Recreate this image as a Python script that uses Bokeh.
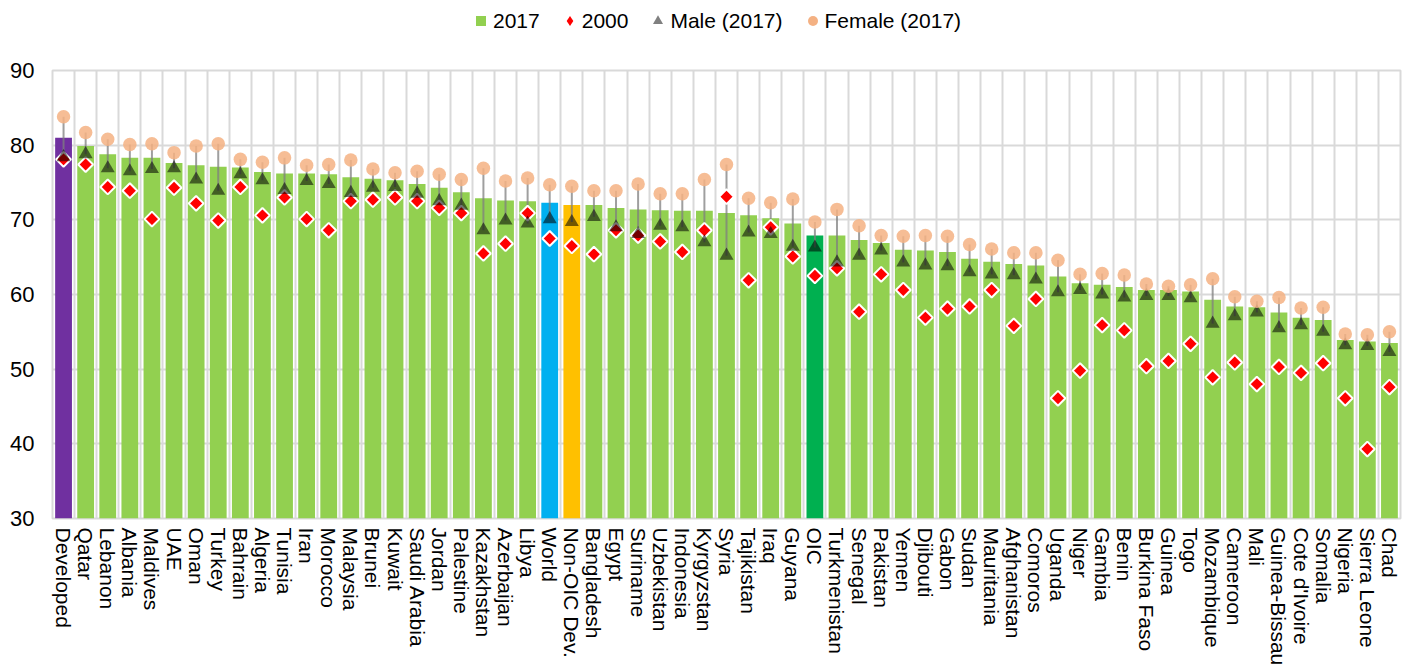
import numpy as np
from bokeh.plotting import figure
from bokeh.layouts import column
from bokeh.models import Range1d, FactorRange, FixedTicker, Legend, LegendItem, ColumnDataSource
from bokeh.embed import file_html
from bokeh.resources import INLINE

categories = ["Developed", "Qatar", "Lebanon", "Albania", "Maldives", "UAE", "Oman", "Turkey",
              "Bahrain", "Algeria", "Tunisia", "Iran", "Morocco", "Malaysia", "Brunei", "Kuwait",
              "Saudi Arabia", "Jordan", "Palestine", "Kazakhstan", "Azerbaijan", "Libya", "World",
              "Non-OIC Dev.", "Bangladesh", "Egypt", "Suriname", "Uzbekistan", "Indonesia",
              "Kyrgyzstan", "Syria", "Tajikistan", "Iraq", "Guyana", "OIC", "Turkmenistan",
              "Senegal", "Pakistan", "Yemen", "Djibouti", "Gabon", "Sudan", "Mauritania",
              "Afghanistan", "Comoros", "Uganda", "Niger", "Gambia", "Benin", "Burkina Faso",
              "Guinea", "Togo", "Mozambique", "Cameroon", "Mali", "Guinea-Bissau",
              "Cote d'Ivoire", "Somalia", "Nigeria", "Sierra Leone", "Chad"]

v2017 = [81.0, 79.9, 78.8, 78.3, 78.3, 77.6, 77.3, 77.1, 77.0, 76.4,
         76.2, 76.2, 76.1, 75.7, 75.5, 75.3, 74.8, 74.3, 73.7, 72.9,
         72.6, 72.5, 72.3, 72.0, 72.0, 71.6, 71.4, 71.3, 71.2, 71.2,
         70.9, 70.6, 70.2, 69.5, 67.9, 67.9, 67.3, 66.9, 66.0, 65.9,
         65.7, 64.8, 64.4, 64.1, 63.9, 62.4, 61.5, 61.3, 61.0, 60.6,
         60.6, 60.4, 59.3, 58.4, 58.3, 57.6, 56.9, 56.6, 53.9, 53.7, 53.5]

v2000 = [78.1, 77.4, 74.4, 73.9, 70.1, 74.3, 72.2, 69.9, 74.4, 70.6,
         73.0, 70.1, 68.6, 72.5, 72.7, 73.0, 72.5, 71.6, 70.9, 65.5,
         66.8, 70.9, 67.5, 66.5, 65.4, 68.6, 67.9, 67.1, 65.7, 68.6,
         73.1, 61.9, 69.0, 65.1, 62.5, 63.5, 57.7, 62.7, 60.6, 56.9,
         58.1, 58.4, 60.6, 55.8, 59.4, 46.1, 49.8, 55.9, 55.2, 50.4,
         51.1, 53.4, 48.9, 50.9, 48.0, 50.3, 49.5, 50.8, 46.1, 39.3, 47.6]

male2017 = [78.4, 78.8, 76.9, 76.5, 76.8, 76.9, 75.4, 73.9, 76.1, 75.3,
            74.0, 75.2, 74.8, 73.6, 74.3, 74.4, 73.5, 72.5, 71.9, 68.6,
            69.9, 69.5, 70.1, 69.7, 70.4, 69.0, 68.1, 69.2, 69.0, 67.0,
            65.2, 68.3, 68.1, 66.4, 66.3, 64.3, 65.2, 65.9, 64.3, 63.9,
            63.8, 63.0, 62.7, 62.6, 62.0, 60.3, 60.6, 60.0, 59.6, 59.8,
            59.8, 59.5, 56.1, 57.1, 57.6, 55.5, 55.9, 55.0, 53.2, 53.1, 52.3]

female2017 = [83.8, 81.7, 80.8, 80.1, 80.2, 79.0, 79.9, 80.2, 78.1, 77.7,
              78.3, 77.3, 77.4, 78.0, 76.8, 76.3, 76.5, 76.1, 75.4, 76.9,
              75.2, 75.6, 74.7, 74.5, 73.9, 73.9, 74.8, 73.5, 73.5, 75.4,
              77.4, 72.9, 72.3, 72.8, 69.7, 71.4, 69.2, 67.9, 67.8, 67.9,
              67.8, 66.7, 66.1, 65.6, 65.6, 64.6, 62.7, 62.8, 62.6, 61.4,
              61.1, 61.3, 62.1, 59.7, 59.1, 59.6, 58.2, 58.3, 54.7, 54.6, 55.0]

y_ticks = [30, 40, 50, 60, 70, 80, 90]
series_labels = ["2017", "2000", "Male (2017)", "Female (2017)"]

special = {"Developed": "#7030a0", "World": "#00b0f0", "Non-OIC Dev.": "#ffc000", "OIC": "#00b050"}
bar_colors = [special.get(c, "#92d050") for c in categories]

src = ColumnDataSource(dict(cat=categories, v2017=v2017, v2000=v2000,
                            male=male2017, female=female2017, color=bar_colors))

FONT = "Liberation Sans"

# ---- legend strip (its own small figure above the chart) ----
lg = figure(width=1408, height=40, x_range=Range1d(0, 1), y_range=Range1d(0, 1),
            output_backend="svg", toolbar_location=None, min_border=0,
            x_axis_location=None, y_axis_location=None, outline_line_color=None)
lg.grid.visible = False
nan = [float("nan")]
l1 = lg.scatter(x=[0.5], y=nan, marker="square", fill_color="#92d050", line_color=None)
l2 = lg.scatter(x=[0.5], y=nan, marker="diamond", fill_color="#ff0000", line_color=None)
l3 = lg.scatter(x=[0.5], y=nan, marker="triangle", fill_color="#808080", line_color=None)
l4 = lg.scatter(x=[0.5], y=nan, marker="circle", fill_color="#f4b183", line_color=None)
legend = Legend(items=[LegendItem(label=s, renderers=[r])
                       for s, r in zip(series_labels, [l1, l2, l3, l4])],
                orientation="horizontal", location=(416, 7), padding=0, margin=0,
                spacing=17, glyph_width=25, glyph_height=25, label_standoff=0,
                label_text_font=FONT, label_text_font_size="21px", label_text_color="black",
                border_line_color=None, background_fill_alpha=0)
lg.add_layout(legend)

# ---- main chart ----
p = figure(x_range=FactorRange(factors=categories), y_range=Range1d(30, 90),
           width=1408, height=628, output_backend="svg", toolbar_location=None,
           min_border_left=52, min_border_right=8, min_border_top=30, min_border_bottom=150)

p.vbar(x="cat", top="v2017", bottom=0, width=0.76, fill_color="color", line_color=None, source=src)
p.segment(x0="cat", y0="male", x1="cat", y1="female", line_color="#7f7f7f", line_alpha=0.75,
          line_width=2, source=src)
p.scatter(x="cat", y="v2000", marker="square", angle=np.pi / 4, size=10.5, fill_color="#ff0000",
          line_color="white", line_width=2, source=src)
p.scatter(x="cat", y="male", marker="triangle", size=14, fill_color="black", fill_alpha=0.55,
          line_color=None, source=src)
p.scatter(x="cat", y="female", marker="circle", size=13.5, fill_color="#f4b183", fill_alpha=0.85,
          line_color=None, source=src)

p.xgrid.ticker = FixedTicker(ticks=list(range(0, len(categories) + 1)))
p.xgrid.grid_line_color = "#d9d9d9"
p.xgrid.grid_line_width = 2
p.ygrid.ticker = FixedTicker(ticks=y_ticks)
p.ygrid.grid_line_color = "#d9d9d9"
p.ygrid.grid_line_width = 2
p.outline_line_color = "#d9d9d9"
p.outline_line_width = 2

p.yaxis.ticker = FixedTicker(ticks=y_ticks)
p.yaxis.axis_line_color = None
p.yaxis.major_tick_line_color = None
p.yaxis.minor_tick_line_color = None
p.yaxis.major_tick_out = 0
p.yaxis.major_label_standoff = 18
p.yaxis.major_label_text_font = FONT
p.yaxis.major_label_text_font_size = "22px"
p.yaxis.major_label_text_color = "black"

p.xaxis.axis_line_color = None
p.xaxis.major_tick_line_color = None
p.xaxis.major_tick_out = 0
p.xaxis.major_label_standoff = 9
p.xaxis.major_label_orientation = "vertical"
p.xaxis.major_label_text_font = FONT
p.xaxis.major_label_text_font_size = "21px"
p.xaxis.major_label_text_color = "black"

layout = column(lg, p, spacing=0)
open("out.html", "w").write(file_html(layout, INLINE))
